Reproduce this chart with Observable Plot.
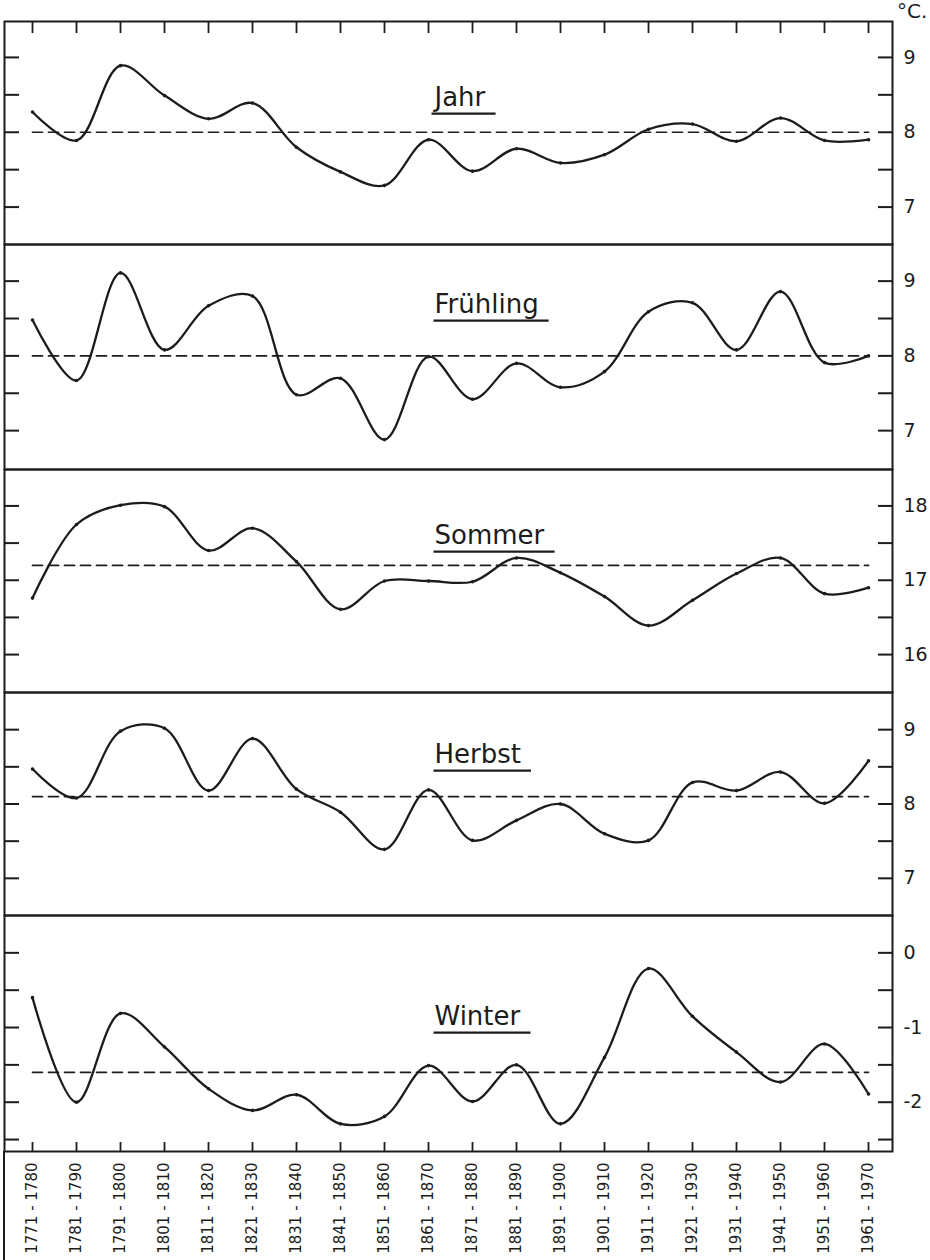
<!DOCTYPE html>
<html>
<head>
<meta charset="utf-8">
<script src="https://cdn.jsdelivr.net/npm/d3@7"></script>
<script src="https://cdn.jsdelivr.net/npm/@observablehq/plot@0.6"></script>
<style>
  body { margin: 0; background: #ffffff; }
  #chart { position: relative; width: 930px; height: 1260px; font-family: "DejaVu Sans", sans-serif; color: #1c1c1c; overflow: hidden; }
  #chart svg { position: absolute; left: 0; }
  #unit { position: absolute; left: 897px; top: -1px; font-size: 20px; }
  #leftedge { position: absolute; left: 3px; top: 1151px; height: 109px; border-left: 2px solid #1c1c1c; }
</style>
</head>
<body>
<div id="chart"><div id="unit">°C.</div><div id="leftedge"></div></div>
<script>
// ---- data ----
const decades = ["1771-1780","1781-1790","1791-1800","1801-1810","1811-1820","1821-1830","1831-1840","1841-1850","1851-1860","1861-1870","1871-1880","1881-1890","1891-1900","1901-1910","1911-1920","1921-1930","1931-1940","1941-1950","1951-1960","1961-1970"];
const jahr      = [8.27, 7.89, 8.89, 8.49, 8.18, 8.39, 7.80, 7.47, 7.29, 7.90, 7.48, 7.78, 7.59, 7.70, 8.04, 8.11, 7.88, 8.19, 7.89, 7.90];
const fruehling = [8.48, 7.67, 9.11, 8.08, 8.67, 8.80, 7.48, 7.70, 6.88, 7.99, 7.42, 7.90, 7.58, 7.79, 8.59, 8.71, 8.08, 8.86, 7.91, 8.00];
const sommer    = [16.76, 17.75, 18.01, 17.99, 17.40, 17.70, 17.25, 16.61, 16.99, 16.99, 16.98, 17.30, 17.10, 16.78, 16.39, 16.73, 17.09, 17.30, 16.82, 16.90];
const herbst    = [8.47, 8.08, 8.98, 9.02, 8.18, 8.88, 8.20, 7.89, 7.39, 8.19, 7.51, 7.78, 8.00, 7.60, 7.51, 8.29, 8.18, 8.43, 8.01, 8.58];
const winter    = [-0.60, -2.00, -0.81, -1.26, -1.82, -2.11, -1.90, -2.29, -2.19, -1.51, -1.99, -1.50, -2.29, -1.40, -0.21, -0.85, -1.33, -1.73, -1.22, -1.89];
const seasonNames = ["Jahr", "Frühling", "Sommer", "Herbst", "Winter"];
const seasonMeans = [8.0, 8.0, 17.2, 8.1, -1.6];
const majorTicks = [[7, 8, 9], [7, 8, 9], [16, 17, 18], [7, 8, 9], [-2, -1, 0]];
const minorTicks = [[7, 7.5, 8, 8.5, 9], [7, 7.5, 8, 8.5, 9], [16, 16.5, 17, 17.5, 18], [7, 7.5, 8, 8.5, 9], [-2.5, -2, -1.5, -1, -0.5, 0]];
const seriesValues = [jahr, fruehling, sommer, herbst, winter];

// ---- layout ----
const layout = [
  {top: 21,  bottom: 244,  domain: [6.50, 9.48],  labelDy: 76},
  {top: 244, bottom: 469,  domain: [6.48, 9.49],  labelDy: 60},
  {top: 469, bottom: 692,  domain: [15.49, 18.49], labelDy: 66},
  {top: 692, bottom: 915,  domain: [6.50, 9.50],  labelDy: 62},
  {top: 915, bottom: 1151, domain: [-2.66, 0.50], labelDy: 101}
];
const ink = "#1c1c1c";
const font = "DejaVu Sans, sans-serif";
const titleSize = 26;
const fmt = d => (d < 0 ? "-" + Math.abs(d) : String(d));
const chart = document.getElementById("chart");

seriesValues.forEach((values, k) => {
  const L = layout[k];
  const first = k === 0, last = k === seriesValues.length - 1;
  const rows = decades.map((d, i) => ({decade: d, value: values[i]}));
  const mean = seasonMeans[k];
  const h = L.bottom - L.top;
  const marks = [
    Plot.frame({stroke: ink, strokeWidth: 2}),
    Plot.axisY({anchor: "left", ticks: minorTicks[k], tickSize: -15, tickFormat: () => "", strokeWidth: 2, label: null}),
    Plot.axisY({anchor: "right", ticks: minorTicks[k], tickSize: -15, tickFormat: () => "", strokeWidth: 2, label: null}),
    Plot.axisY({anchor: "right", ticks: majorTicks[k], tickSize: 0, tickPadding: 11, tickFormat: fmt, fontSize: 19, label: null}),
    Plot.line(rows, {x: "decade", y: () => mean, stroke: ink, strokeWidth: 1.7, strokeDasharray: "10,6"}),
    Plot.line(rows, {x: "decade", y: "value", curve: "catmull-rom", stroke: ink, strokeWidth: 2.3}),
    Plot.dot(rows, {x: "decade", y: "value", r: 1.8, fill: ink}),
    Plot.text([seasonNames[k]], {x: () => decades[9], frameAnchor: "top", dy: L.labelDy, dx: 6, textAnchor: "start", lineAnchor: "middle", fontSize: titleSize, fill: ink})
  ];
  if (first) marks.push(Plot.axisX({anchor: "top", tickSize: -11, tickFormat: () => "", strokeWidth: 1.8, label: null}));
  if (last) {
    marks.push(Plot.axisX({anchor: "bottom", tickSize: -9, tickFormat: () => "", strokeWidth: 1.8, label: null}));
    marks.push(Plot.axisX({anchor: "bottom", tickSize: 0, tickPadding: 11, tickRotate: -90, fontSize: 15, tickFormat: d => d.replace("-", " - "), label: null}));
  }
  const svg = Plot.plot({
    width: 930,
    height: h + (last ? 109 : 0),
    marginTop: 0,
    marginBottom: last ? 109 : 0,
    marginLeft: 4,
    marginRight: 38,
    style: {background: "transparent", overflow: "visible", fontFamily: font, color: ink},
    x: {type: "point", domain: decades, padding: 0, insetLeft: 23, insetRight: 20, axis: null},
    y: {domain: L.domain, label: null, axis: null},
    marks
  });
  svg.style.top = L.top + "px";
  chart.appendChild(svg);
  // underline the panel title
  Array.from(svg.querySelectorAll("text"))
    .filter(t => t.textContent === seasonNames[k])
    .forEach(t => {
      const b = t.getBBox();
      const baseline = b.y + b.height - 0.236 * titleSize;
      const line = document.createElementNS("http://www.w3.org/2000/svg", "line");
      const tr = t.getAttribute("transform");
      if (tr) line.setAttribute("transform", tr);
      line.setAttribute("x1", b.x - 1);
      line.setAttribute("x2", b.x + b.width + 10);
      line.setAttribute("y1", baseline + 8);
      line.setAttribute("y2", baseline + 8);
      line.setAttribute("stroke", ink);
      line.setAttribute("stroke-width", 2.2);
      t.parentNode.appendChild(line);
    });
});
</script>
</body>
</html>
